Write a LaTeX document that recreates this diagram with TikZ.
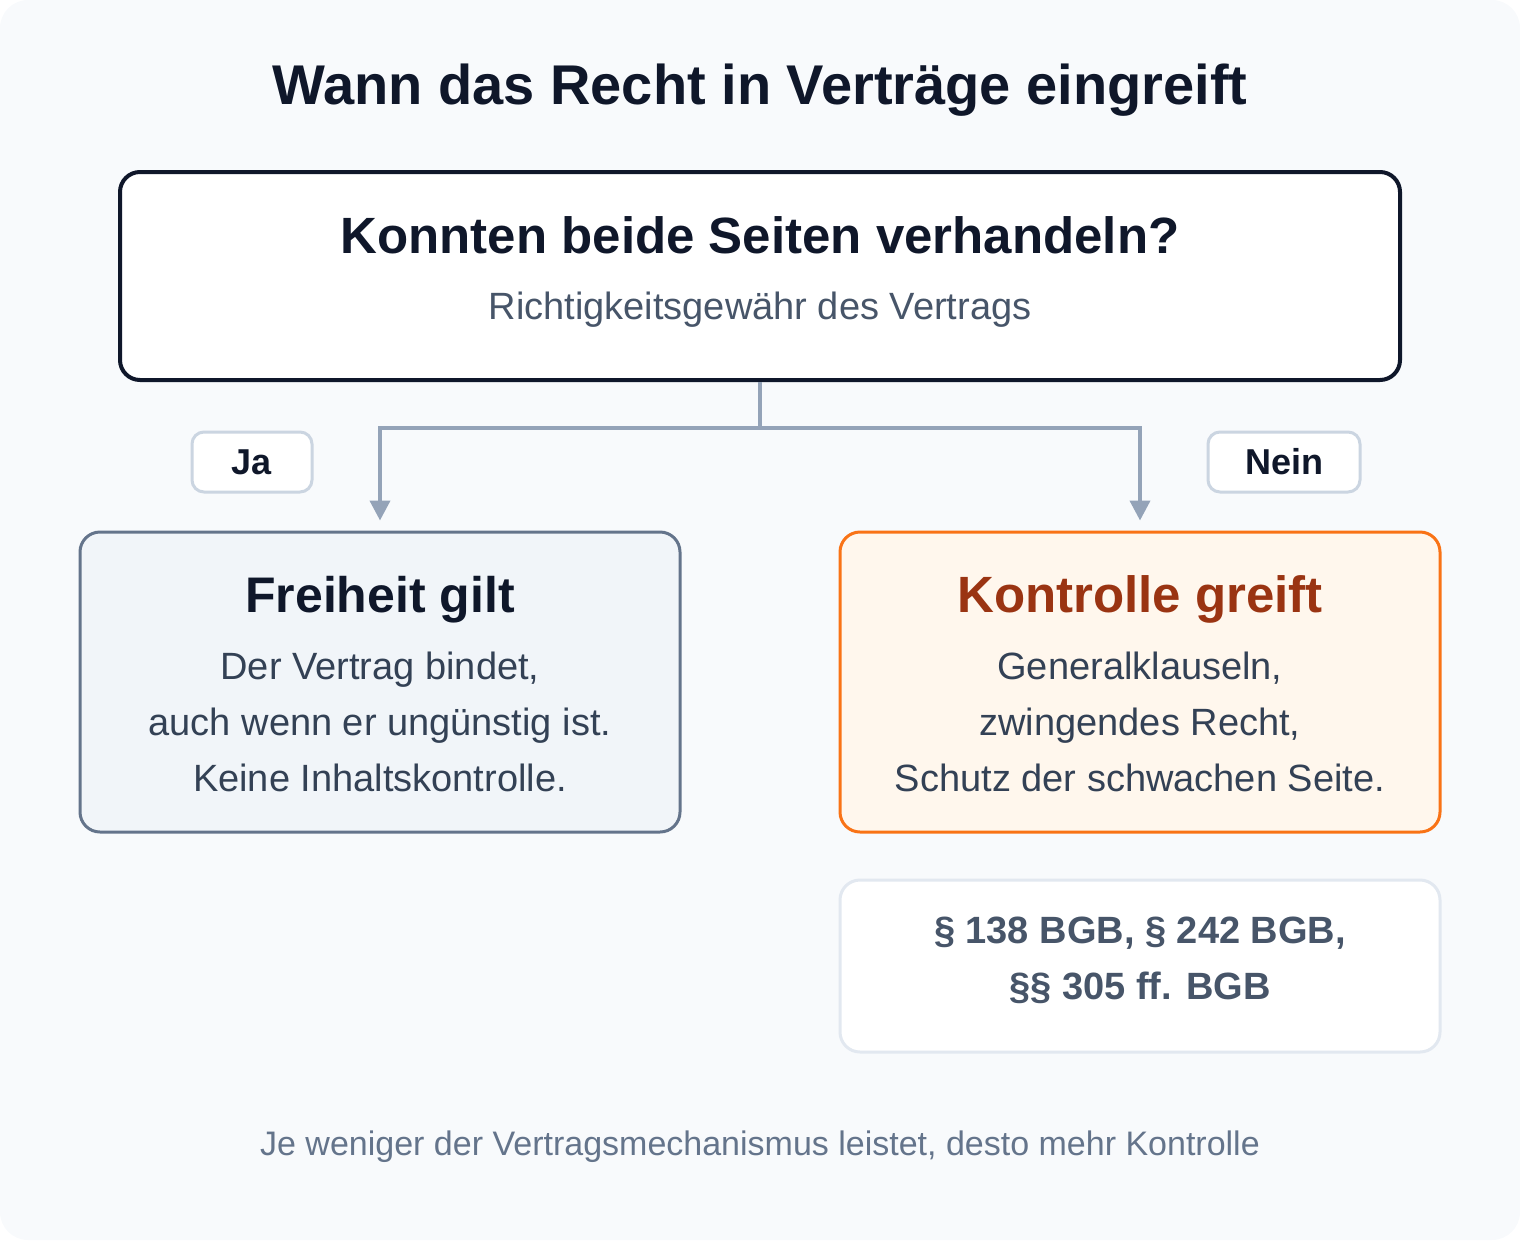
\documentclass[tikz,border=0pt]{standalone}
\usepackage{fontspec}
\setmainfont{Liberation Sans}
\usepackage{xcolor}
\usetikzlibrary{arrows.meta,positioning}

\definecolor{ink}{HTML}{0F172A}
\definecolor{slate}{HTML}{475569}
\definecolor{body}{HTML}{334155}
\definecolor{muted}{HTML}{64748B}
\definecolor{wire}{HTML}{94A3B8}
\definecolor{pale}{HTML}{CBD5E1}
\definecolor{paler}{HTML}{E2E8F0}
\definecolor{canvas}{HTML}{F8FAFC}
\definecolor{freifill}{HTML}{F1F5F9}
\definecolor{kontfill}{HTML}{FFF7ED}
\definecolor{kontline}{HTML}{F97316}
\definecolor{konttext}{HTML}{9A3412}

\tikzset{
	card/.style={rounded corners=20pt, inner sep=0pt, minimum width=600pt, minimum height=300pt},
	tag/.style={draw=pale, fill=white, line width=3pt, rounded corners=12pt, inner sep=0pt,
			minimum height=60pt, font=\fontsize{36}{40}\selectfont\bfseries, text=ink},
	txt/.style={anchor=base, inner sep=0pt},
	conn/.style={draw=wire, line width=4pt, -{Triangle[width=20pt,length=20pt]}, shorten >=10pt}
}

\begin{document}
\begin{tikzpicture}[x=1pt, y=-1pt]

  \useasboundingbox (0,0) rectangle (1520,1240);
  \fill[canvas, rounded corners=28pt] (0,0) rectangle (1520,1240);

  \node[txt, text=ink, font=\fontsize{56}{60}\selectfont\bfseries] (titel) at (760,104) {Wann das Recht in Verträge eingreift};

  % Frage
  \node[card, draw=ink, fill=white, line width=4pt, minimum width=1280pt, minimum height=208pt] (frage) at (760,276) {};
  \node[txt, text=ink, font=\fontsize{51}{56}\selectfont\bfseries] (frageT) at (760,253) {Konnten beide Seiten verhandeln?};
  \node[txt, text=slate, font=\fontsize{38}{42}\selectfont] (frageS) at (760,319) {Richtigkeitsgewähr des Vertrags};

  % Antworten
  \node[card, draw=muted, fill=freifill, line width=3pt] (frei) at (380,682) {};
  \node[txt, text=ink, font=\fontsize{50}{56}\selectfont\bfseries] (freiT) at (380,612) {Freiheit gilt};
  \node[txt, text=body, font=\fontsize{38}{56}\selectfont, align=center] (freiS) at (380,791)
    {Der Vertrag bindet,\\auch wenn er ungünstig ist.\\Keine Inhaltskontrolle.};

  \node[card, draw=kontline, fill=kontfill, line width=3pt] (kontr) at (1140,682) {};
  \node[txt, text=konttext, font=\fontsize{51}{56}\selectfont\bfseries] (kontrT) at (1140,612) {Kontrolle greift};
  \node[txt, text=body, font=\fontsize{38}{56}\selectfont, align=center] (kontrS) at (1140,791)
    {Generalklauseln,\\zwingendes Recht,\\Schutz der schwachen Seite.};

  \node[card, draw=paler, fill=white, line width=3pt, minimum height=172pt] (norm) at (1140,966) {};
  \node[txt, text=slate, font=\fontsize{38}{56}\selectfont\bfseries, align=center] (normT) at (1140,999)
    {§ 138 BGB, § 242 BGB,\\§§ 305 ff. BGB};

  % Verbindungen
  \coordinate (gabel) at (760,428);
  \path[conn] (frage.south) -- (gabel) -| (frei.north);
  \path[conn] (frage.south) -- (gabel) -| (kontr.north);

  \node[tag, minimum width=120pt] (ja) at (252,462) {Ja};
  \node[tag, minimum width=152pt] (nein) at (1284,462) {Nein};

  \node[txt, text=muted, font=\fontsize{34}{40}\selectfont] (fazit) at (760,1155) {Je weniger der Vertragsmechanismus leistet, desto mehr Kontrolle};

\end{tikzpicture}
\end{document}
